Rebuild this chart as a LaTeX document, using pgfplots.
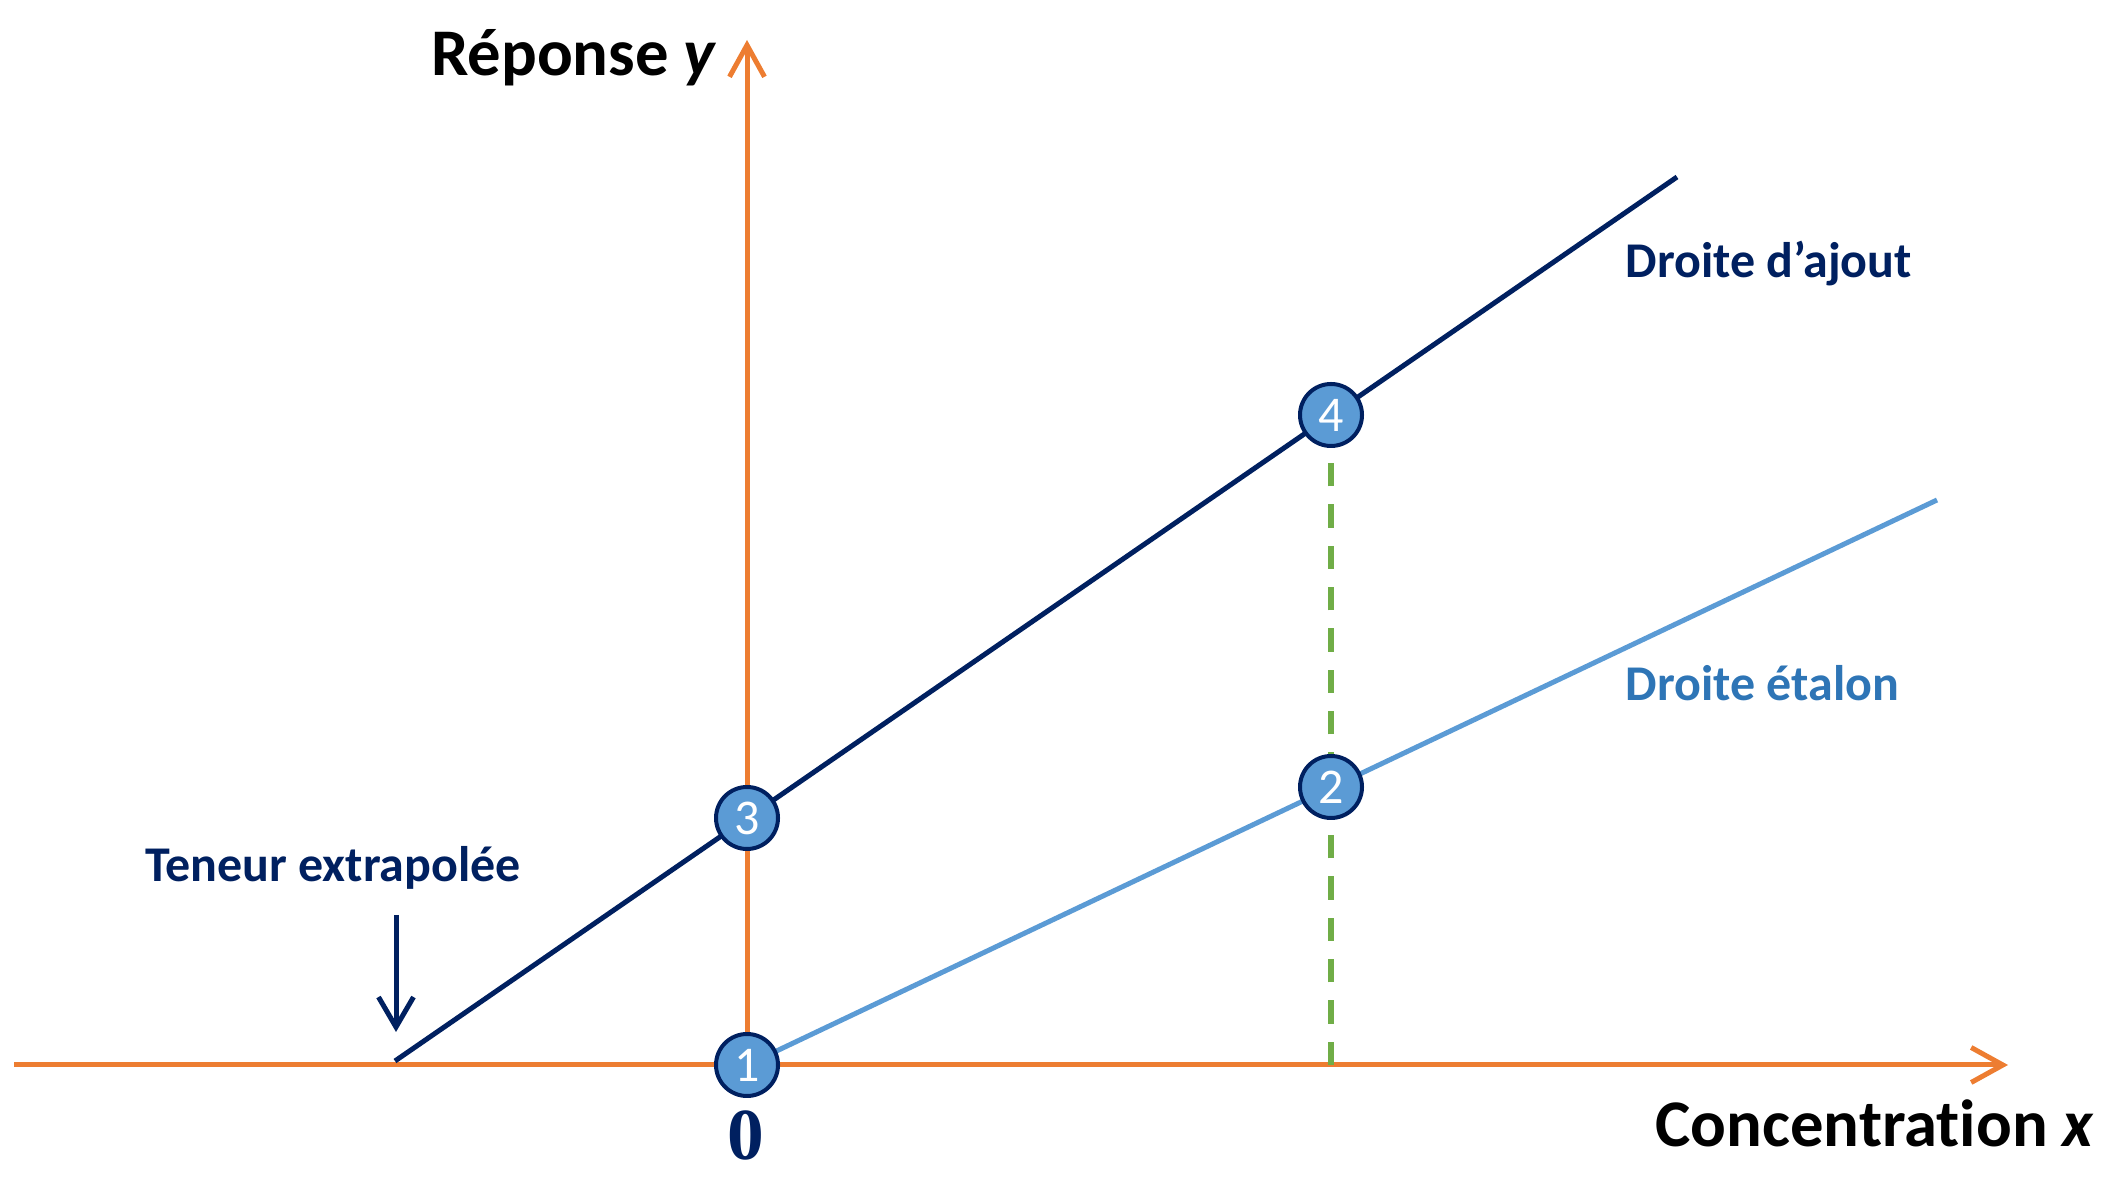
\documentclass[border=0pt]{standalone}
\usepackage{pgfplots}
\pgfplotsset{compat=1.18}
\usepackage{fontspec}
\setmainfont{Carlito}[Ligatures=NoCommon]
\newfontfamily\serifbold{Liberation Serif}
\usetikzlibrary{arrows.meta}
\definecolor{axorange}{HTML}{ED7D31}
\definecolor{navy}{HTML}{002060}
\definecolor{lblue}{HTML}{5B9BD5}
\definecolor{tblue}{HTML}{2E75B6}
\definecolor{dgreen}{HTML}{70AD47}
\begin{document}
\begin{tikzpicture}
\begin{axis}[
  scale only axis, width=598.2pt, height=307.5pt,
  xmin=-733, xmax=1261, ymin=0, ymax=1025,
  axis lines=middle,
  axis line style={axorange, line width=1.5pt},
  x axis line style={-{Straight Barb[length=9.5pt,width=10.5pt]}},
  y axis line style={-{Straight Barb[length=9.5pt,width=10.5pt]}},
  xtick=\empty, ytick=\empty,
  clip=false,
]
\addplot[navy, line width=1.5pt] coordinates {(-352,4) (930,888)};
\addplot[lblue, line width=1.5pt] coordinates {(0,0) (1190,565)};
\addplot[dgreen, line width=1.8pt, dash pattern=on 7pt off 5.4pt] coordinates {(584,0) (584,650)};
\addplot[navy, line width=1.5pt, -{Straight Barb[length=9pt,width=10.5pt]}] coordinates {(-351,150) (-351,33)};
\addplot[only marks, mark=*, mark size=9.3pt,
  mark options={draw=navy, fill=lblue, line width=1.2pt},
  point meta=explicit symbolic, nodes near coords, nodes near coords align=center,
  every node near coord/.append style={anchor=center, text=white, inner sep=0pt, font=\fontsize{15}{15}\selectfont}]
  table[meta=lab] {
x y lab
0 0 1
584 278 2
0 247 3
584 650 4
};
\node[anchor=base, inner sep=0pt, font=\bfseries\fontsize{20}{24}\selectfont] at (axis cs:-173,989) {Réponse \textit{y}};
\node[anchor=base, inner sep=0pt, font=\bfseries\fontsize{20}{24}\selectfont] at (axis cs:1128,-82) {Concentration \textit{x}};
\node[anchor=base, inner sep=0pt, text=navy, font=\serifbold\bfseries\fontsize{22}{26}\selectfont] at (axis cs:-1,-95) {0};
\node[anchor=base west, inner sep=0pt, text=navy, font=\bfseries\fontsize{15}{18}\selectfont] at (axis cs:878,787) {Droite d’ajout};
\node[anchor=base west, inner sep=0pt, text=tblue, font=\bfseries\fontsize{15}{18}\selectfont] at (axis cs:878,364) {Droite étalon};
\node[anchor=base, inner sep=0pt, text=navy, font=\bfseries\fontsize{15}{18}\selectfont] at (axis cs:-414,183) {Teneur extrapolée};
\path (axis cs:-747,-120) rectangle (axis cs:1377,1065);
\end{axis}
\end{tikzpicture}
\end{document}
